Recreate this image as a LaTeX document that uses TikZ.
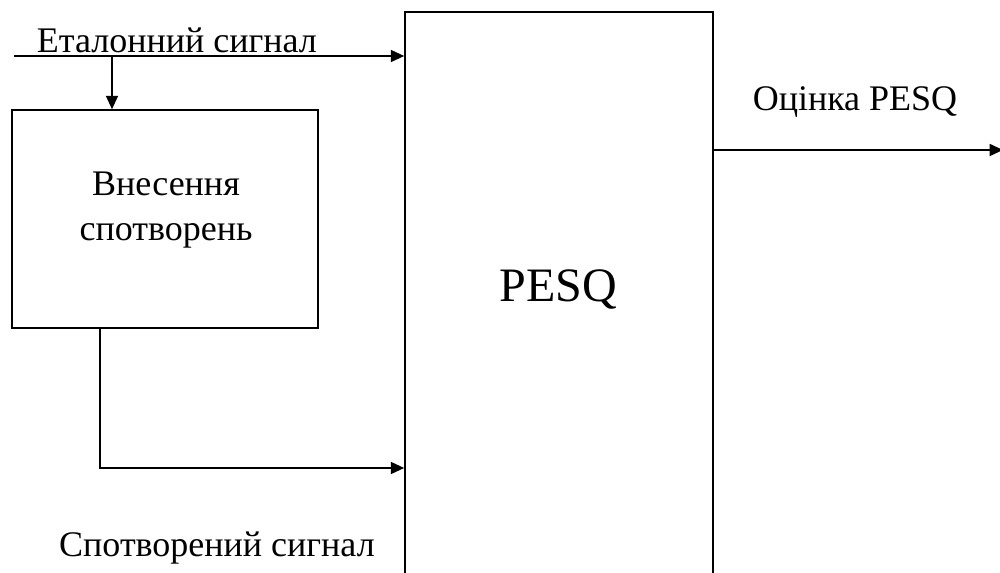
\documentclass[tikz,border=0pt]{standalone}
\usepackage{fontspec}
\setmainfont{Liberation Serif}
\usetikzlibrary{arrows.meta,positioning,calc}

\tikzset{
  block/.style={draw, line width=1.2pt, inner sep=0pt},
  sig/.style={line width=1.2pt, -{Triangle[length=10pt,width=9pt]}},
  lbl/.style={font=\fontsize{27}{32}\selectfont, inner sep=0pt}
}

\begin{document}
\begin{tikzpicture}[x=0.75pt,y=-0.75pt]
\useasboundingbox (0,0) rectangle (1000,573);
% Blocks
  \node[block, minimum width=229.5pt, minimum height=163.5pt] (distort) at (165,219) {};
  \node[lbl, align=center, font=\fontsize{27}{34}\selectfont] (distorttext) at (166,210) {Внесення\\спотворень};
  \node[block, minimum width=231pt, minimum height=450pt] (pesq) at (559,312) {};
  \node[lbl, font=\fontsize{36}{42}\selectfont] (pesqtext) at (558,290) {PESQ};
% Labels
  \node[lbl] (reflbl) at (177,40) {Еталонний сигнал};
  \node[lbl] (deglbl) at (217,548) {Спотворений сигнал};
  \node[lbl] (outlbl) at (855,102) {Оцінка PESQ};
% Signals
  \coordinate (src) at (14,56);
  \coordinate (tap) at (112,56);
  \coordinate (bend) at (100,468);
  \coordinate (out) at (1003,150);
  \draw[sig] (src) -- (src -| pesq.west);
  \draw[sig] (tap) -- (tap |- distort.north);
  \draw[sig] (distort.south -| bend) -- (bend) -- (bend -| pesq.west);
  \draw[sig] (out -| pesq.east) -- (out);
\end{tikzpicture}
\end{document}
